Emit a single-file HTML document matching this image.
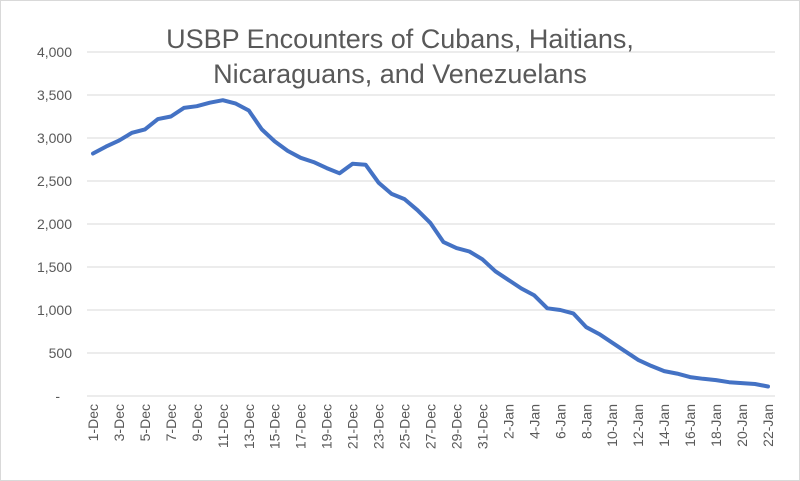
<!DOCTYPE html>
<html><head><meta charset="utf-8"><style>
html,body{margin:0;padding:0;background:#fff;}
svg{display:block;font-family:"Liberation Sans",Calibri,sans-serif;}
</style></head><body>
<svg id="chart" width="800" height="481" viewBox="0 0 800 481">
<rect x="0.5" y="0.5" width="799" height="480" fill="#fff" stroke="#d9d9d9"/>
<text x="400" y="48" text-anchor="middle" font-size="27" fill="#595959">USBP Encounters of Cubans, Haitians,</text>
<text x="400" y="83" text-anchor="middle" font-size="27" fill="#595959">Nicaraguans, and Venezuelans</text>
<g id="grid"></g><g id="ylabels"></g><g id="xlabels"></g><g id="series"></g>
</svg>
<script>
const categories=["1-Dec","2-Dec","3-Dec","4-Dec","5-Dec","6-Dec","7-Dec","8-Dec","9-Dec","10-Dec","11-Dec","12-Dec","13-Dec","14-Dec","15-Dec","16-Dec","17-Dec","18-Dec","19-Dec","20-Dec","21-Dec","22-Dec","23-Dec","24-Dec","25-Dec","26-Dec","27-Dec","28-Dec","29-Dec","30-Dec","31-Dec","1-Jan","2-Jan","3-Jan","4-Jan","5-Jan","6-Jan","7-Jan","8-Jan","9-Jan","10-Jan","11-Jan","12-Jan","13-Jan","14-Jan","15-Jan","16-Jan","17-Jan","18-Jan","19-Jan","20-Jan","21-Jan","22-Jan"];
const encounters=[2820,2900,2970,3060,3100,3220,3250,3350,3370,3410,3440,3400,3320,3100,2960,2850,2770,2720,2650,2590,2700,2690,2480,2350,2290,2160,2010,1790,1720,1680,1590,1450,1350,1250,1170,1020,1000,960,800,720,620,520,420,350,290,260,220,200,185,160,150,140,110];
const yTicks=[0,500,1000,1500,2000,2500,3000,3500,4000];
const yTickLabels=["-","500","1,000","1,500","2,000","2,500","3,000","3,500","4,000"];
const NS="http://www.w3.org/2000/svg";
const x0=93,x1=768,yTop=52,yBot=396,yMax=4000;
function xs(i){return x0+(x1-x0)*i/(categories.length-1);}
function ys(v){return yBot-(yBot-yTop)*v/yMax;}
const grid=document.getElementById('grid'),yl=document.getElementById('ylabels'),xl=document.getElementById('xlabels'),ser=document.getElementById('series');
yTicks.forEach((t,i)=>{
  const l=document.createElementNS(NS,'line');
  l.setAttribute('x1',87);l.setAttribute('x2',775);l.setAttribute('y1',ys(t));l.setAttribute('y2',ys(t));
  l.setAttribute('stroke','#d9d9d9');l.setAttribute('stroke-width','1');
  
  
  grid.appendChild(l);
  const tx=document.createElementNS(NS,'text');
  tx.setAttribute('x',i===0?60:72);tx.setAttribute('y',ys(t)+5);tx.setAttribute('text-anchor','end');
  tx.setAttribute('font-size','14');tx.setAttribute('fill','#595959');tx.textContent=yTickLabels[i];
  
  
  yl.appendChild(tx);
});
categories.forEach((c,i)=>{
  if(i%2!==0)return;
  const tx=document.createElementNS(NS,'text');
  const x=xs(i)+5,y=404;
  tx.setAttribute('x',x);tx.setAttribute('y',y);tx.setAttribute('text-anchor','end');
  tx.setAttribute('transform','rotate(-90 '+x+' '+y+')');
  tx.setAttribute('font-size','14');tx.setAttribute('fill','#595959');tx.textContent=c;
  
  
  xl.appendChild(tx);
});
const p=document.createElementNS(NS,'polyline');
p.setAttribute('points',encounters.map((v,i)=>xs(i).toFixed(1)+','+ys(v).toFixed(1)).join(' '));
p.setAttribute('fill','none');p.setAttribute('stroke','#4472c4');p.setAttribute('stroke-width','4');
p.setAttribute('stroke-linejoin','round');p.setAttribute('stroke-linecap','round');


ser.appendChild(p);
</script>
</body></html>
